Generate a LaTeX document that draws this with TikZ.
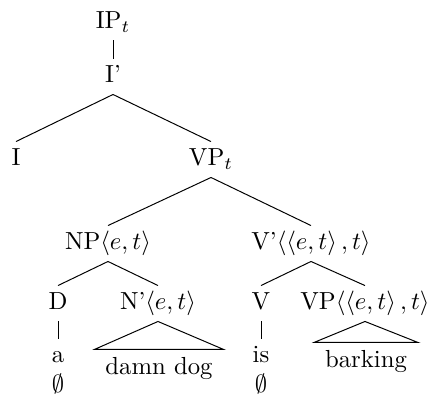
\documentclass[tikz,border=0pt]{standalone}
\usepackage{amsmath, amssymb}
\usepackage{tikz}

\begin{document}
\begin{tikzpicture}[
    x=0.405pt, y=-0.405pt,
    cat/.style={anchor=base, inner ysep=2pt, text height=7.7pt, text depth=2.45pt},
    roof/.style={anchor=base, inner xsep=4.3pt, inner ysep=3.2pt},
    null/.style={anchor=base, inner sep=0pt}
]
\useasboundingbox (0,0) rectangle (429,396);

% categories
\node[cat] (ip)  at (113,29)  {IP$_t$};
\node[cat] (ib)  at (113,83)  {I'};
\node[cat] (i)   at (16,166)  {I};
\node[cat] (vp)  at (211,166) {VP$_t$};
\node[cat] (np)  at (108,250) {NP$\langle e,t\rangle$};
\node[cat] (vb)  at (311,250) {V'$\langle\langle e,t\rangle\,,t\rangle$};
\node[cat] (d)   at (58,310)  {D};
\node[cat] (nb)  at (158,310) {N'$\langle e,t\rangle$};
\node[cat] (v)   at (261,310) {V};
\node[cat] (vpb) at (365,310) {VP$\langle\langle e,t\rangle\,,t\rangle$};

% leaves
\node[cat]  (a)     at (58,363)  {a};
\node[null] (anull) at (58,393)  {$\emptyset$};
\node[roof] (dog)   at (159,375) {damn dog};
\node[cat]  (is)    at (261,363) {is};
\node[null] (isnull) at (261,393) {$\emptyset$};
\node[roof] (bark)  at (366,368) {barking};

\draw (ip.south) -- (ib.north);
\draw (ib.south) -- (i.north);
\draw (ib.south) -- (vp.north);
\draw (vp.south) -- (np.north);
\draw (vp.south) -- (vb.north);
\draw (np.south) -- (d.north);
\draw (np.south) -- (nb.north);
\draw (vb.south) -- (v.north);
\draw (vb.south) -- (vpb.north);
\draw (d.south) -- (a.north);
\draw (v.south) -- (is.north);
\draw (nb.south) -- (dog.north west) -- (dog.north east) -- cycle;
\draw (vpb.south) -- (bark.north west) -- (bark.north east) -- cycle;

\end{tikzpicture}
\end{document}
